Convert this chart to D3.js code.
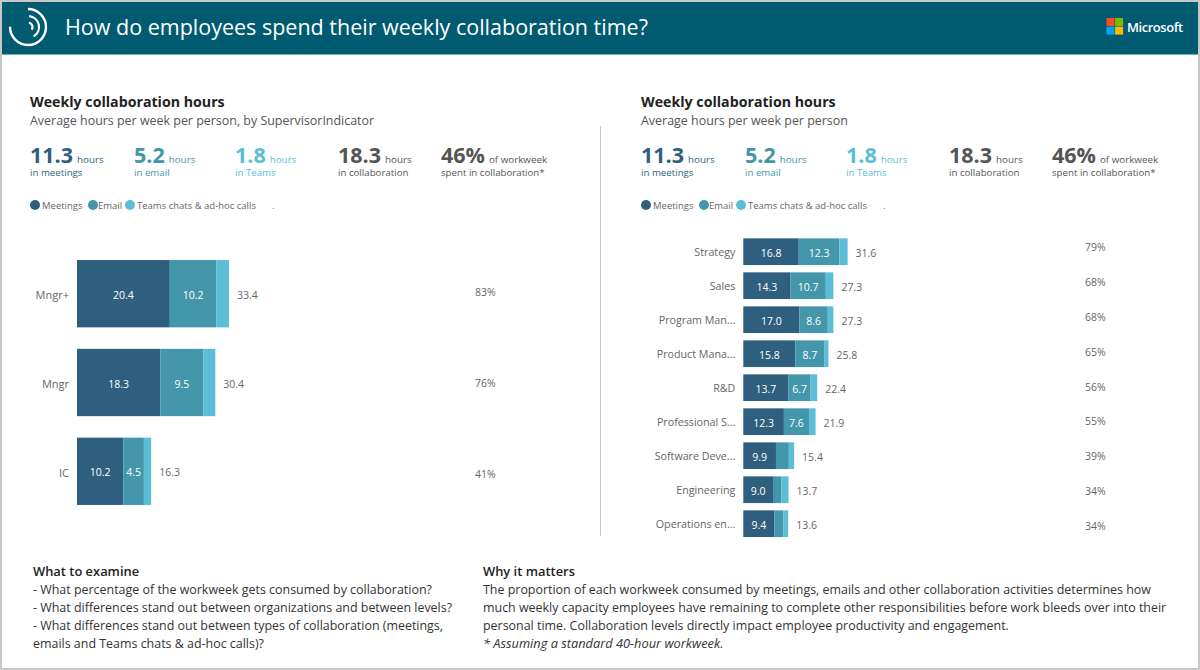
<!DOCTYPE html>
<html>
<head>
<meta charset="utf-8">
<script src="https://cdn.jsdelivr.net/npm/d3@7"></script>
<style>
    html, body { margin: 0; padding: 0; background: #fff; }
    svg { display: block; }
    text { font-family: "Open Sans", "Noto Sans", sans-serif; }
    .domain { display: none; }
</style>
</head>
<body>
<svg id="chart" width="1200" height="670"></svg>
<script>
'use strict';

// left chart, by level
const levels = ['Mngr+', 'Mngr', 'IC'];
const levelMeetings = [20.4, 18.3, 10.2];
const levelEmail = [10.2, 9.5, 4.5];
const levelTeams = [2.8, 2.6, 1.6];
const levelTotals = [33.4, 30.4, 16.3];
const levelShares = ['83%', '76%', '41%'];

// right chart, by organization
const orgs = ['Strategy', 'Sales', 'Program Man...', 'Product Mana...', 'R&D', 'Professional S...', 'Software Deve...', 'Engineering', 'Operations en...'];
const orgMeetings = [16.8, 14.3, 17.0, 15.8, 13.7, 12.3, 9.9, 9.0, 9.4];
const orgEmail = [12.3, 10.7, 8.6, 8.7, 6.7, 7.6, 3.9, 2.5, 2.7];
const orgTeams = [2.5, 2.3, 1.7, 1.3, 2.0, 2.0, 1.6, 2.2, 1.5];
const orgTotals = [31.6, 27.3, 27.3, 25.8, 22.4, 21.9, 15.4, 13.7, 13.6];
const orgShares = ['79%', '68%', '68%', '65%', '56%', '55%', '39%', '34%', '34%'];

const seriesNames = ['Meetings', 'Email', 'Teams chats & ad-hoc calls'];
const seriesColors = ['#2f5f7e', '#4496aa', '#5bbdd6'];

const kpiValues = ['11.3', '5.2', '1.8', '18.3', '46%'];
const kpiUnits = ['hours', 'hours', 'hours', 'hours', 'of workweek'];
const kpiLabels = ['in meetings', 'in email', 'in Teams', 'in collaboration', 'spent in collaboration*'];
const kpiColors = ['#2f5f7e', '#4496aa', '#5bbdd6', '#555555', '#555555'];
const kpiOffsets = [0, 104, 205, 308, 411];

const examineLines = [
    '- What percentage of the workweek gets consumed by collaboration?',
    '- What differences stand out between organizations and between levels?',
    '- What differences stand out between types of collaboration (meetings,',
    'emails and Teams chats & ad-hoc calls)?'
];
const mattersLines = [
    'The proportion of each workweek consumed by meetings, emails and other collaboration activities determines how',
    'much weekly capacity employees have remaining to complete other responsibilities before work bleeds over into their',
    'personal time. Collaboration levels directly impact employee productivity and engagement.'
];

const svg = d3.select('#chart');

// frame
svg.append('rect').attr('width', 1200).attr('height', 670).attr('fill', '#c8c8c8');
svg.append('rect').attr('x', 2).attr('y', 2).attr('width', 1196).attr('height', 666).attr('fill', '#fff');

// header
svg.append('rect').attr('x', 2).attr('y', 2).attr('width', 1196).attr('height', 52.5).attr('fill', '#005a70');
svg.append('text').attr('x', 65).attr('y', 35).attr('fill', '#fff')
    .attr('font-size', 21.5)
    .text('How do employees spend their weekly collaboration time?');

// header logo, ring with a gap and two inner arcs
const logo = svg.append('g').attr('transform', 'translate(28,27)')
    .attr('fill', 'none').attr('stroke', '#fff').attr('stroke-linecap', 'round');
const arc = d3.arc();
logo.append('path').attr('stroke-width', 2.4)
    .attr('d', arc({ innerRadius: 18, outerRadius: 18, startAngle: 0, endAngle: 4.72 }));
logo.append('path').attr('stroke-width', 2.2)
    .attr('d', arc({ innerRadius: 11, outerRadius: 11, startAngle: 0.1, endAngle: 2.6 }));
logo.append('path').attr('stroke-width', 2.2)
    .attr('d', arc({ innerRadius: 4.5, outerRadius: 4.5, startAngle: 0.2, endAngle: 2.2 }));

// microsoft mark
const msColors = ['#f25022', '#7fba00', '#00a4ef', '#ffb900'];
svg.append('g').selectAll('rect').data(msColors).enter().append('rect')
    .attr('x', (d, i) => 1106.5 + (i % 2) * 8.6)
    .attr('y', (d, i) => 18 + Math.floor(i / 2) * 8.6)
    .attr('width', 8).attr('height', 8)
    .attr('fill', d => d);
svg.append('text').attr('x', 1127).attr('y', 31.5).attr('fill', '#fff')
    .attr('font-size', 13).attr('font-weight', 600).attr('letter-spacing', -0.45)
    .text('Microsoft');

// divider between the two panels
svg.append('line').attr('x1', 600.5).attr('x2', 600.5).attr('y1', 126).attr('y2', 536)
    .attr('stroke', '#c8c8c8');

function drawHeading(g, subtitle) {
    g.append('text').attr('x', 0).attr('y', 107).attr('fill', '#222')
        .attr('font-size', 14.2).attr('font-weight', 700)
        .text('Weekly collaboration hours');
    g.append('text').attr('x', 0).attr('y', 125).attr('fill', '#555')
        .attr('font-size', 12.45)
        .text(subtitle);

    // kpi row
    const kpi = g.selectAll('g.kpi').data(kpiValues).enter().append('g')
        .attr('class', 'kpi')
        .attr('transform', (d, i) => `translate(${kpiOffsets[i]},0)`);
    const big = kpi.append('text').attr('y', 163)
        .attr('fill', (d, i) => kpiColors[i]);
    big.append('tspan').attr('font-size', 21.5).attr('font-weight', 700).text(d => d);
    big.append('tspan').attr('dx', 4).attr('font-size', 9.8)
        .text((d, i) => kpiUnits[i]);
    kpi.append('text').attr('y', 176).attr('font-size', 9.7)
        .attr('fill', (d, i) => kpiColors[i])
        .text((d, i) => kpiLabels[i]);

    // legend
    const legendX = [0, 58, 95];
    const legendTextX = [12, 68, 107];
    g.selectAll('circle.legend').data(seriesNames).enter().append('circle')
        .attr('class', 'legend')
        .attr('cx', (d, i) => legendX[i] + 5).attr('cy', 205).attr('r', 5)
        .attr('fill', (d, i) => seriesColors[i]);
    g.selectAll('text.legend').data(seriesNames).enter().append('text')
        .attr('class', 'legend')
        .attr('x', (d, i) => legendTextX[i]).attr('y', 208.5)
        .attr('font-size', 9.5).attr('fill', '#666').text(d => d);
    g.append('text').attr('x', 242).attr('y', 208.5).attr('font-size', 9.5).attr('fill', '#666').text('.');
}

function drawBars(g, opts) {
    const rows = opts.categories.map((c, i) => ({
        category: c,
        meetings: opts.meetings[i],
        email: opts.email[i],
        teams: opts.teams[i],
        total: opts.totals[i],
        share: opts.shares[i]
    }));
    const keys = ['meetings', 'email', 'teams'];
    const stacked = d3.stack().keys(keys)(rows);

    const x = d3.scaleLinear().domain([0, opts.xMax]).range([opts.x0, opts.x1]);
    const y = d3.scaleBand().domain(opts.categories)
        .range([opts.y0, opts.y1]).paddingInner(opts.padding).paddingOuter(opts.padding / 2);
    // the percent column sits on its own grid, it does not line up with the bars
    const yShare = d3.scalePoint().domain(opts.categories).range(opts.shareRange);

    // category axis
    const axis = g.append('g').attr('transform', `translate(${opts.x0},${opts.axisShift})`)
        .call(d3.axisLeft(y).tickSize(0).tickPadding(8));
    axis.selectAll('text').attr('font-size', opts.axisFontSize)
        .attr('fill', '#666').style('font-family', '"Open Sans", "Noto Sans", sans-serif');

    const layers = g.selectAll('g.layer').data(stacked).enter().append('g')
        .attr('class', 'layer').attr('fill', (d, i) => seriesColors[i]);
    layers.selectAll('rect').data(d => d).enter().append('rect')
        .attr('x', d => x(d[0]))
        .attr('y', d => y(d.data.category))
        .attr('width', d => x(d[1]) - x(d[0]))
        .attr('height', y.bandwidth());

    // segment labels, only where the value fits
    layers.selectAll('text').data(d => d.filter(v => x(v[1]) - x(v[0]) >= 18)).enter().append('text')
        .attr('x', d => (x(d[0]) + x(d[1])) / 2)
        .attr('y', d => y(d.data.category) + y.bandwidth() / 2 + 5)
        .attr('text-anchor', 'middle').attr('fill', '#fff')
        .attr('font-size', opts.fontSize)
        .text(d => (d[1] - d[0]).toFixed(1));

    g.selectAll('text.total').data(rows).enter().append('text')
        .attr('class', 'total')
        .attr('x', d => x(d.total) + opts.totalGap)
        .attr('y', d => y(d.category) + y.bandwidth() / 2 + 5)
        .attr('font-size', opts.fontSize).attr('fill', '#666')
        .text(d => d.total.toFixed(1));

    g.selectAll('text.share').data(rows).enter().append('text')
        .attr('class', 'share')
        .attr('x', opts.shareX)
        .attr('y', d => yShare(d.category) + 4)
        .attr('font-size', opts.fontSize).attr('fill', '#666')
        .text(d => d.share);
}

const left = svg.append('g');
drawHeading(left.append('g').attr('transform', 'translate(30,0)'), 'Average hours per week per person, by SupervisorIndicator');
drawBars(left, {
    categories: levels, meetings: levelMeetings, email: levelEmail, teams: levelTeams,
    totals: levelTotals, shares: levelShares,
    xMax: 40, x0: 77, x1: 259, y0: 249.3, y1: 515.7, padding: 0.242,
    fontSize: 10.5, axisFontSize: 11, axisShift: 2, totalGap: 8, shareX: 475, shareRange: [292, 473.5]
});

const right = svg.append('g');
drawHeading(right.append('g').attr('transform', 'translate(641,0)'), 'Average hours per week per person');
drawBars(right, {
    categories: orgs, meetings: orgMeetings, email: orgEmail, teams: orgTeams,
    totals: orgTotals, shares: orgShares,
    xMax: 40, x0: 743.3, x1: 875.3, y0: 234.7, y1: 540.7, padding: 0.215,
    fontSize: 10.5, axisFontSize: 10.7, axisShift: 1, totalGap: 8, shareX: 1085, shareRange: [247, 526]
});

// notes
function drawNotes(x, title, lines) {
    svg.append('text').attr('x', x).attr('y', 576).attr('fill', '#222')
        .attr('font-size', 12.9).attr('font-weight', 600).text(title);
    svg.selectAll(null).data(lines).enter().append('text')
        .attr('x', x).attr('y', (d, i) => 594 + i * 18)
        .attr('font-size', 12.45).attr('fill', '#333').text(d => d);
}
drawNotes(33, 'What to examine', examineLines);
drawNotes(483, 'Why it matters', mattersLines);
svg.append('text').attr('x', 483).attr('y', 648).attr('font-size', 12.8)
    .attr('font-style', 'italic').attr('fill', '#333')
    .text('* Assuming a standard 40-hour workweek.');
</script>
</body>
</html>
